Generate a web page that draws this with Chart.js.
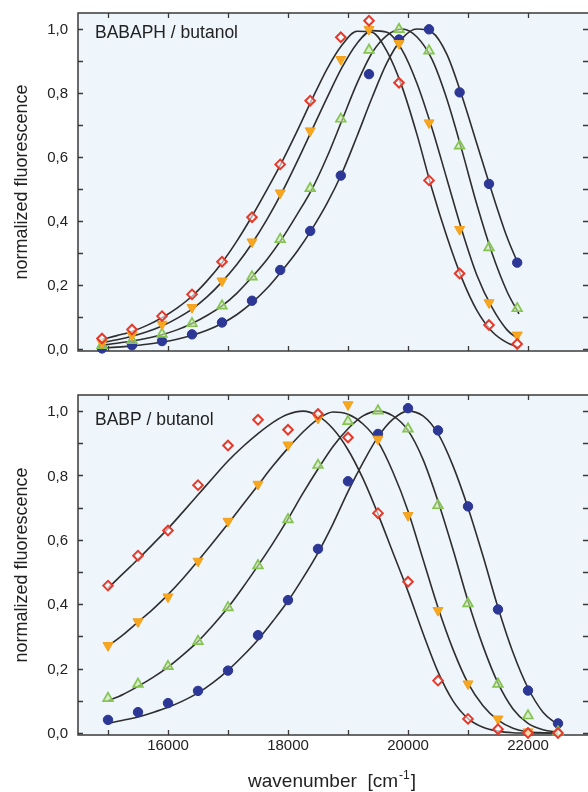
<!doctype html>
<html lang="en">
<head>
<meta charset="utf-8">
<title>normalized fluorescence - BABAPH / BABP in butanol</title>
<style>
  body {margin: 0; background: #fff;}
  #wrap {position: relative; width: 588px; height: 792px;}
  canvas {position: absolute; left: 0;}
</style>
</head>
<body>
<div id="wrap">
  <canvas id="topChart" width="588" height="380" style="top:0"></canvas>
  <canvas id="bottomChart" width="588" height="412" style="top:380px"></canvas>
</div>

<script src="https://cdn.jsdelivr.net/npm/chart.js@4.4.1/dist/chart.umd.min.js"></script>
<script>
// measured points, top panel (BABAPH / butanol)
var topX = [14900, 15400, 15900, 16400, 16900, 17400, 17870, 18370, 18880, 19350, 19850, 20350, 20860, 21350, 21820];
var topRed = [0.033, 0.061, 0.103, 0.171, 0.273, 0.412, 0.577, 0.776, 0.974, 1.026, 0.832, 0.527, 0.236, 0.075, 0.016];
var topOrange = [0.020, 0.044, 0.078, 0.130, 0.213, 0.335, 0.488, 0.682, 0.905, 0.999, 0.955, 0.707, 0.374, 0.145, 0.044];
var topGreen = [0.012, 0.027, 0.047, 0.080, 0.135, 0.226, 0.343, 0.502, 0.719, 0.934, 0.999, 0.932, 0.635, 0.317, 0.127];
var topBlue = [0.002, 0.012, 0.025, 0.046, 0.083, 0.151, 0.247, 0.369, 0.542, 0.859, 0.967, 0.999, 0.802, 0.516, 0.270];

// fitted curves, top panel
var topFitX = [14900, 15150, 15400, 15650, 15900, 16150, 16400, 16650, 16900, 17150, 17400, 17650, 17900, 18150, 18400,
               18650, 18900, 19150, 19400, 19650, 19900, 20150, 20400, 20650, 20900, 21150, 21400, 21650, 21850];
var topFitRed = [0.030, 0.042, 0.055, 0.074, 0.098, 0.128, 0.165, 0.213, 0.270, 0.338, 0.415, 0.498, 0.585, 0.680, 0.780,
                 0.875, 0.950, 0.993, 0.990, 0.930, 0.820, 0.670, 0.500, 0.350, 0.220, 0.120, 0.055, 0.020, 0.005];
var topFitOrange = [0.020, 0.029, 0.040, 0.054, 0.072, 0.096, 0.125, 0.163, 0.210, 0.265, 0.330, 0.405, 0.490, 0.585, 0.685,
                    0.785, 0.880, 0.955, 0.995, 0.990, 0.935, 0.830, 0.690, 0.530, 0.370, 0.230, 0.130, 0.060, 0.030];
var topFitGreen = [0.012, 0.018, 0.025, 0.034, 0.045, 0.060, 0.080, 0.105, 0.135, 0.175, 0.225, 0.280, 0.345, 0.420, 0.500,
                   0.600, 0.715, 0.830, 0.925, 0.980, 1.000, 0.975, 0.905, 0.780, 0.620, 0.450, 0.300, 0.180, 0.110];
var topFitBlue = [0.003, 0.006, 0.010, 0.015, 0.022, 0.031, 0.043, 0.059, 0.080, 0.108, 0.145, 0.190, 0.245, 0.305, 0.375,
                  0.455, 0.550, 0.665, 0.785, 0.895, 0.970, 1.000, 0.990, 0.920, 0.790, 0.640, 0.490, 0.350, 0.260];

// measured points, bottom panel (BABP / butanol)
var bottomX = [15000, 15500, 16000, 16500, 17000, 17500, 18000, 18500, 19000, 19500, 20000, 20500, 21000, 21500, 22000, 22500];
var bottomRed = [0.458, 0.551, 0.629, 0.770, 0.893, 0.973, 0.942, 0.991, 0.918, 0.683, 0.470, 0.163, 0.044, 0.012, 0.000, 0.000];
var bottomOrange = [0.272, 0.346, 0.423, 0.534, 0.658, 0.773, 0.895, 0.978, 1.020, 0.913, 0.676, 0.381, 0.153, 0.044, 0.004, null];
var bottomGreen = [0.108, 0.152, 0.207, 0.285, 0.390, 0.520, 0.663, 0.832, 0.968, 1.001, 0.945, 0.707, 0.402, 0.152, 0.054, 0.004];
var bottomBlue = [0.041, 0.065, 0.093, 0.131, 0.194, 0.304, 0.413, 0.572, 0.782, 0.929, 1.009, 0.940, 0.704, 0.384, 0.132, 0.030];

// fitted curves, bottom panel
var bottomFitX = [15000, 15250, 15500, 15750, 16000, 16250, 16500, 16750, 17000, 17250, 17500, 17750, 18000, 18250, 18500, 18750,
                  19000, 19250, 19500, 19750, 20000, 20250, 20500, 20750, 21000, 21250, 21500, 21750, 22000, 22250, 22500];
var bottomFitRed = [0.450, 0.495, 0.540, 0.587, 0.635, 0.687, 0.740, 0.793, 0.845, 0.890, 0.930, 0.965, 0.990, 1.000, 0.985, 0.945,
                    0.880, 0.790, 0.680, 0.560, 0.440, 0.310, 0.190, 0.100, 0.045, 0.018, 0.006, 0.001, 0, 0, 0];
var bottomFitOrange = [0.270, 0.305, 0.345, 0.385, 0.430, 0.480, 0.535, 0.592, 0.650, 0.710, 0.770, 0.830, 0.885, 0.935, 0.975, 0.997,
                       0.990, 0.960, 0.905, 0.810, 0.690, 0.540, 0.390, 0.260, 0.155, 0.085, 0.040, 0.015, 0.004, 0.001, 0];
var bottomFitGreen = [0.100, 0.120, 0.145, 0.173, 0.205, 0.243, 0.285, 0.335, 0.390, 0.453, 0.520, 0.590, 0.665, 0.745, 0.820, 0.890,
                      0.945, 0.985, 1.000, 0.985, 0.940, 0.850, 0.720, 0.570, 0.410, 0.270, 0.155, 0.075, 0.030, 0.010, 0.003];
var bottomFitBlue = [0.030, 0.040, 0.050, 0.064, 0.080, 0.100, 0.125, 0.157, 0.195, 0.240, 0.290, 0.348, 0.410, 0.482, 0.560, 0.650,
                     0.750, 0.840, 0.920, 0.975, 1.000, 0.985, 0.930, 0.830, 0.700, 0.550, 0.390, 0.250, 0.140, 0.065, 0.025];

// axis ticks
var xTicks = [15000, 16000, 17000, 18000, 19000, 20000, 21000, 22000];
var xLabels = [16000, 18000, 20000, 22000];
var yTicks = [0, 0.1, 0.2, 0.3, 0.4, 0.5, 0.6, 0.7, 0.8, 0.9, 1.0];
var yLabels = [0, 0.2, 0.4, 0.6, 0.8, 1.0];

var FONT = '"Liberation Sans", Arial, Helvetica, sans-serif';

function pts(xs, ys) {
  var out = [];
  for (var i = 0; i < xs.length; i++) {
    if (ys[i] !== null) out.push({x: xs[i], y: ys[i]});
  }
  return out;
}

function markers(data, style, order) {
  return Object.assign({type: 'scatter', data: data, order: order, clip: false, showLine: false}, style);
}

function fit(data) {
  return {type: 'line', data: data, order: 10, clip: false, showLine: true, pointRadius: 0,
          borderColor: '#2e2e2e', borderWidth: 1.6, cubicInterpolationMode: 'monotone', fill: false};
}

var redStyle = {pointStyle: 'rectRot', pointRadius: 4.8, pointBorderWidth: 2, pointBorderColor: '#e4392b', pointBackgroundColor: 'rgba(255,255,255,0.6)'};
var orangeStyle = {pointStyle: 'triangle', rotation: 180, pointRadius: 5.8, pointBorderWidth: 1, pointBorderColor: '#f4a11c', pointBackgroundColor: '#f7a61f'};
var greenStyle = {pointStyle: 'triangle', pointRadius: 5.6, pointBorderWidth: 1.7, pointBorderColor: '#86c452', pointBackgroundColor: 'rgba(205,232,175,0.6)'};
var blueStyle = {pointStyle: 'circle', pointRadius: 4.7, pointBorderWidth: 1, pointBorderColor: '#2c3796', pointBackgroundColor: '#2c3796'};

// frame, inward ticks, labels and titles
var framePlugin = {
  id: 'frame',
  beforeDatasetsDraw: function(chart, args, opts) {
    var ctx = chart.ctx, a = chart.chartArea;
    var xs = chart.scales.x, ys = chart.scales.y;
    ctx.save();
    ctx.fillStyle = '#eef5fb';
    ctx.fillRect(a.left, a.top, a.right - a.left, a.bottom - a.top);

    ctx.strokeStyle = '#3a3a3a';
    ctx.lineWidth = 1.5;
    ctx.strokeRect(a.left, a.top, a.right - a.left + 2, a.bottom - a.top);

    ctx.lineWidth = 1.3;
    ctx.beginPath();
    xTicks.forEach(function(v) {
      var px = Math.round(xs.getPixelForValue(v)) + 0.5;
      ctx.moveTo(px, a.bottom); ctx.lineTo(px, a.bottom - 5);
      ctx.moveTo(px, a.top); ctx.lineTo(px, a.top + 5);
    });
    yTicks.forEach(function(v) {
      var py = Math.round(ys.getPixelForValue(v)) + 0.5;
      ctx.moveTo(a.left, py); ctx.lineTo(a.left + 5, py);
      ctx.moveTo(a.right, py); ctx.lineTo(a.right - 5, py);
    });
    ctx.stroke();
    ctx.restore();
  },
  afterDraw: function(chart, args, opts) {
    var ctx = chart.ctx, a = chart.chartArea;
    var xs = chart.scales.x, ys = chart.scales.y;
    ctx.save();
    ctx.fillStyle = '#222';

    ctx.font = '15px ' + FONT;
    ctx.textAlign = 'right';
    ctx.textBaseline = 'middle';
    yLabels.forEach(function(v) {
      ctx.fillText(v.toFixed(1).replace('.', ','), a.left - 10, ys.getPixelForValue(v) + 1);
    });

    if (opts.xLabels) {
      ctx.textAlign = 'center';
      ctx.textBaseline = 'middle';
      xLabels.forEach(function(v) {
        ctx.fillText(String(v), xs.getPixelForValue(v), a.bottom + 11);
      });
    }

    // y title
    ctx.save();
    ctx.font = '18px ' + FONT;
    ctx.translate(22, (a.top + a.bottom) / 2);
    ctx.rotate(-Math.PI / 2);
    ctx.textAlign = 'center';
    ctx.textBaseline = 'middle';
    ctx.fillText('normalized fluorescence', 0, 0);
    ctx.restore();

    // panel label
    ctx.font = '17.5px ' + FONT;
    ctx.textAlign = 'left';
    ctx.textBaseline = 'alphabetic';
    ctx.fillText(opts.label, a.left + 17, a.top + opts.labelDy);

    // x title with superscript
    if (opts.xTitle) {
      var main = 'wavenumber  [cm', sup = '-1', tail = ']';
      ctx.font = '19px ' + FONT;
      var w1 = ctx.measureText(main).width, w3 = ctx.measureText(tail).width;
      ctx.font = '12px ' + FONT;
      var w2 = ctx.measureText(sup).width;
      var x0 = 331 - (w1 + w2 + w3) / 2, y0 = a.bottom + 52;
      ctx.font = '19px ' + FONT;
      ctx.fillText(main, x0, y0);
      ctx.font = '12px ' + FONT;
      ctx.fillText(sup, x0 + w1 + 1, y0 - 8);
      ctx.font = '19px ' + FONT;
      ctx.fillText(tail, x0 + w1 + w2 + 2, y0);
    }
    ctx.restore();
  }
};

function makeChart(id, padding, sets, frameOpts) {
  return new Chart(document.getElementById(id), {
    data: {datasets: sets},
    plugins: [framePlugin],
    options: {
      responsive: false,
      animation: false,
      devicePixelRatio: 1,
      layout: {padding: padding, autoPadding: false},
      plugins: {legend: {display: false}, tooltip: {enabled: false}, frame: frameOpts},
      scales: {
        x: {type: 'linear', min: 14500, max: 23000, display: false},
        y: {type: 'linear', min: -0.006, max: 1.05, display: false}
      }
    }
  });
}

makeChart('topChart', {left: 78, right: 0, top: 13, bottom: 29}, [
  markers(pts(topX, topRed), redStyle, 0),
  markers(pts(topX, topOrange), orangeStyle, 1),
  markers(pts(topX, topGreen), greenStyle, 2),
  markers(pts(topX, topBlue), blueStyle, 3),
  fit(pts(topFitX, topFitRed)),
  fit(pts(topFitX, topFitOrange)),
  fit(pts(topFitX, topFitGreen)),
  fit(pts(topFitX, topFitBlue))
], {label: 'BABAPH / butanol', labelDy: 25, xLabels: false, xTitle: false});

makeChart('bottomChart', {left: 78, right: 0, top: 15, bottom: 57}, [
  markers(pts(bottomX, bottomRed), redStyle, 0),
  markers(pts(bottomX, bottomOrange), orangeStyle, 1),
  markers(pts(bottomX, bottomGreen), greenStyle, 2),
  markers(pts(bottomX, bottomBlue), blueStyle, 3),
  fit(pts(bottomFitX, bottomFitRed)),
  fit(pts(bottomFitX, bottomFitOrange)),
  fit(pts(bottomFitX, bottomFitGreen)),
  fit(pts(bottomFitX, bottomFitBlue))
], {label: 'BABP / butanol', labelDy: 30, xLabels: true, xTitle: true});
</script>
</body>
</html>
